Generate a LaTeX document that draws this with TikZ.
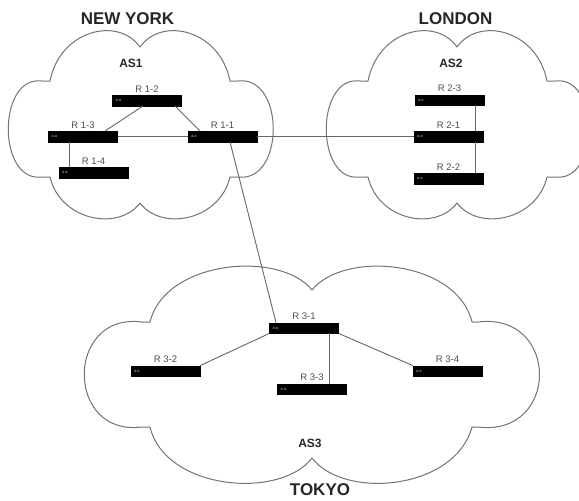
\documentclass[tikz,border=0pt]{standalone}
\usepackage{fontspec}
\setmainfont{Liberation Sans}
\usetikzlibrary{calc}

\tikzset{
  cloudline/.style={draw=black!55, line width=1pt, line join=round},
  link/.style={draw=black!60, line width=0.9pt},
  router/.style={fill=black, draw=black, minimum width=69pt, minimum height=10.5pt,
    inner sep=0pt, text width=63pt, align=left, text=black!25,
    font=\fontsize{4}{4}\selectfont},
  rlabel/.style={font=\fontsize{9.5}{10}\selectfont, text=black!70},
  citylabel/.style={font=\bfseries\fontsize{17}{18}\selectfont, text=black!85},
  aslabel/.style={font=\bfseries\fontsize{12}{13}\selectfont, text=black!85},
}

\begin{document}
\begin{tikzpicture}[x=1pt, y=-1pt]
\useasboundingbox (0,0) rectangle (579,501);
\begin{scope}
\clip (0,0) rectangle (579,501);

% AS1 cloud (New York)
\draw[cloudline] (50,81) .. controls (60,30) and (118,16) .. (140,47)
  .. controls (162,16) and (220,30) .. (230,81) -- (238,81)
  .. controls (285,75) and (285,183) .. (238,177) -- (230,177)
  .. controls (220,220) and (162,232) .. (140,203)
  .. controls (118,232) and (60,220) .. (50,177) -- (42,177)
  .. controls (-3,183) and (-3,75) .. (42,81) -- cycle;

% AS2 cloud (London)
\draw[cloudline] (368,81) .. controls (378,30) and (435,16) .. (457,47)
  .. controls (479,16) and (537,30) .. (547,81) -- (555,81)
  .. controls (600,75) and (600,183) .. (555,177) -- (547,177)
  .. controls (537,220) and (479,232) .. (457,203)
  .. controls (435,232) and (378,220) .. (368,177) -- (360,177)
  .. controls (315,183) and (315,75) .. (360,81) -- cycle;

% AS3 cloud (Tokyo)
\draw[cloudline] (150,322) .. controls (165,260) and (280,250) .. (312,290)
  .. controls (344,250) and (457,260) .. (472,322) -- (478,322)
  .. controls (560,312) and (560,437) .. (478,427) -- (472,427)
  .. controls (455,490) and (344,500) .. (312,458)
  .. controls (280,500) and (165,490) .. (150,427) -- (142,427)
  .. controls (65,437) and (65,312) .. (142,322) -- cycle;
\end{scope}

% city and AS titles
\node[citylabel] (ny) at (127.5,19) {NEW YORK};
\node[citylabel] (ld) at (455.5,19) {LONDON};
\node[citylabel] (tk) at (320,490) {TOKYO};
\node[aslabel] (as1) at (131,63) {AS1};
\node[aslabel] (as2) at (451,63) {AS2};
\node[aslabel] (as3) at (310,443) {AS3};

% routers
\node[router, label={[rlabel, yshift=-1pt]above:R 1-2}] (r12) at (147,100.5) {a.a};
\node[router, label={[rlabel, yshift=-1pt]above:R 1-3}] (r13) at (83,136.5) {a.a};
\node[router, label={[rlabel, yshift=-1pt]above:R 1-1}] (r11) at (222.5,136.5) {a.a};
\node[router, label={[rlabel, yshift=-1pt]above:R 1-4}] (r14) at (93.5,172.5) {a.a};

\node[router, label={[rlabel, yshift=-1pt]above:R 2-3}] (r23) at (449.5,100) {a.a};
\node[router, label={[rlabel, yshift=-1pt]above:R 2-1}] (r21) at (448.5,136.5) {a.a};
\node[router, label={[rlabel, yshift=-1pt]above:R 2-2}] (r22) at (448.5,178.5) {a.a};

\node[router, label={[rlabel, yshift=-1pt]above:R 3-1}] (r31) at (304,328) {a.a};
\node[router, label={[rlabel, yshift=-1pt]above:R 3-2}] (r32) at (165.5,371) {a.a};
\node[router, label={[rlabel, yshift=-1pt]above:R 3-3}] (r33) at (312,389) {a.a};
\node[router, label={[rlabel, yshift=-1pt]above:R 3-4}] (r34) at (447.5,371) {a.a};

% links inside AS1
\draw[link] ([xshift=-4pt]r12.south) -- ([xshift=22pt]r13.north);
\draw[link] ([xshift=28pt]r12.south) -- ([xshift=-22.5pt]r11.north);
\draw[link] (r13.east) -- (r11.west);
\draw[link] ([xshift=-14pt]r13.south) -- ([xshift=-24.5pt]r14.north);

% inter-AS links
\draw[link] (r11.east) -- (r21.west);
\draw[link] ([xshift=7.5pt]r11.south) -- ([xshift=-28pt]r31.north);

% links inside AS2
\draw[link] ([xshift=25.5pt]r23.south) -- ([xshift=26.5pt]r21.north);
\draw[link] ([xshift=26.5pt]r21.south) -- ([xshift=26.5pt]r22.north);

% links inside AS3
\draw[link] (r31.south west) -- (r32.north east);
\draw[link] (r31.south east) -- (r34.north west);
\draw[link] ([xshift=25pt]r31.south) -- ([xshift=17pt]r33.north);
\end{tikzpicture}
\end{document}
